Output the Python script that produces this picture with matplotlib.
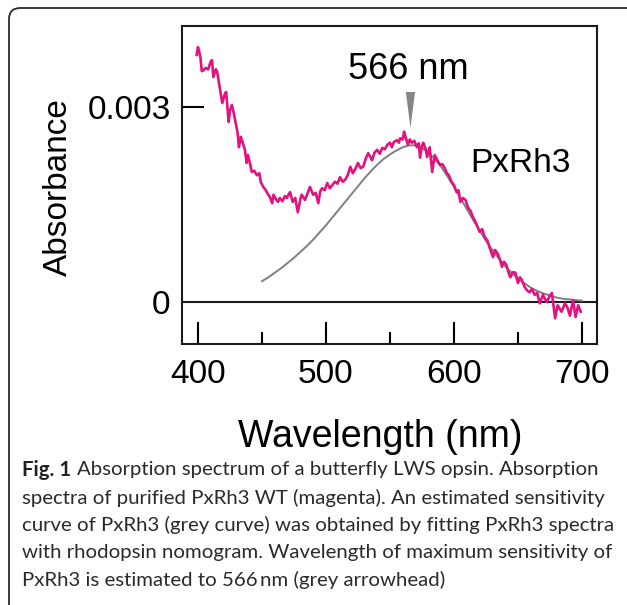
import numpy as np
import matplotlib.pyplot as plt
from matplotlib.patches import FancyBboxPatch, Polygon

plt.rcParams['font.family'] = ['Liberation Sans', 'DejaVu Sans']

wl_meas = [399, 400, 401, 402, 403, 404, 406, 408, 410, 411, 412, 414, 415, 417, 419,
           421, 422, 424, 425, 426.5, 428, 429, 431, 432, 433.5, 435, 436.7, 438, 439,
           441, 442, 444, 446, 448, 449, 451, 453, 454, 456, 458, 459, 461, 462.5, 464,
           466, 468, 469.5, 471, 472, 474, 476, 478, 480, 481, 483.6, 485, 487.5, 489,
           490, 492, 494, 495.5, 497, 499, 501, 503, 505, 507, 509, 511, 513, 515, 517,
           519, 521, 523, 525, 527, 529, 531, 533, 535, 536, 538, 540, 542, 544, 546,
           548, 550, 551.5, 553, 555.5, 557, 558, 560, 561, 562, 564, 565.5, 567, 569,
           571, 572.5, 573.5, 575, 576, 578, 579, 581, 583, 585, 587, 589, 591, 593,
           594.5, 596, 598, 600, 602, 603.5, 605, 607, 609, 611, 613, 614.5, 616, 618,
           620, 622, 624, 626, 628, 630.5, 632, 634, 636, 637.5, 639, 641, 642.5, 644,
           646, 648, 650, 651.5, 653, 655, 657, 659, 661, 663, 665, 667, 669.5, 671,
           672.5, 674.5, 676.5, 679, 681, 682.5, 684, 686.7, 688.5, 690.6, 693, 695,
           697, 699]
abs_meas = [3.80, 3.92, 3.85, 3.75, 3.55, 3.56, 3.60, 3.58, 3.70, 3.72, 3.46, 3.58, 3.54,
            3.30, 3.06, 3.20, 3.23, 2.77, 2.95, 3.03, 2.90, 2.80, 2.60, 2.38, 2.54, 2.45,
            2.34, 2.14, 2.26, 2.10, 2.00, 2.02, 1.95, 1.98, 1.85, 1.77, 1.72, 1.68, 1.62,
            1.52, 1.65, 1.58, 1.54, 1.60, 1.55, 1.63, 1.60, 1.66, 1.69, 1.54, 1.60, 1.38,
            1.58, 1.65, 1.57, 1.64, 1.77, 1.70, 1.65, 1.68, 1.52, 1.70, 1.75, 1.72, 1.83,
            1.75, 1.80, 1.85, 1.82, 1.92, 1.85, 1.88, 1.95, 2.08, 1.98, 2.05, 2.14, 2.06,
            2.08, 2.20, 2.29, 2.22, 2.18, 2.30, 2.34, 2.28, 2.37, 2.35, 2.42, 2.45, 2.38,
            2.46, 2.49, 2.45, 2.52, 2.50, 2.62, 2.55, 2.42, 2.50, 2.45, 2.48, 2.38, 2.44,
            2.22, 2.40, 2.45, 2.35, 2.23, 2.38, 2.00, 2.26, 2.18, 2.11, 2.12, 2.05, 1.98,
            1.95, 1.85, 1.80, 1.69, 1.72, 1.54, 1.60, 1.57, 1.45, 1.40, 1.32, 1.26, 1.18,
            1.08, 1.12, 1.00, 0.95, 0.83, 0.69, 0.80, 0.75, 0.65, 0.54, 0.62, 0.57, 0.46,
            0.38, 0.46, 0.45, 0.29, 0.38, 0.34, 0.24, 0.18, 0.15, 0.20, 0.11, 0.14, -0.02,
            0.11, 0.05, 0.00, 0.08, 0.14, -0.25, -0.05, -0.10, -0.15, -0.02, -0.08, -0.21,
            0.03, -0.23, -0.05, -0.15]

# nomogram fit (grey curve), absorbance x 1e-3
wl_fit = list(range(450, 701, 5))
abs_fit = [0.32, 0.38, 0.45, 0.52, 0.60, 0.68, 0.77, 0.86, 0.96, 1.07, 1.18, 1.30, 1.42,
           1.54, 1.66, 1.78, 1.90, 2.01, 2.11, 2.20, 2.27, 2.33, 2.38, 2.41, 2.41, 2.37,
           2.30, 2.20, 2.08, 1.93, 1.77, 1.60, 1.43, 1.26, 1.10, 0.94, 0.80, 0.67, 0.55,
           0.45, 0.36, 0.29, 0.22, 0.17, 0.13, 0.10, 0.07, 0.05, 0.04, 0.03, 0.02]

lambda_max = 566
xticks = [400, 500, 600, 700]
yticks = [0, 0.003]
ytick_labels = ['0', '0.003']

caption = [
    "Absorption spectrum of a butterfly LWS opsin. Absorption",
    "spectra of purified PxRh3 WT (magenta). An estimated sensitivity",
    "curve of PxRh3 (grey curve) was obtained by fitting PxRh3 spectra",
    "with rhodopsin nomogram. Wavelength of maximum sensitivity of",
    "PxRh3 is estimated to 566\u2009nm (grey arrowhead)",
]

W, H = 627, 605
fig = plt.figure(figsize=(W / 100, H / 100), dpi=100)

def fx(px):
    return px / W

def fy(py):
    return 1 - py / H

ax = fig.add_axes([fx(181.7), fy(344), fx(596.7) - fx(181.7), fy(25.7) - fy(344)])

magenta = '#e2127f'
grey = '#7f7f7f'

ax.plot(wl_fit, np.array(abs_fit) * 1e-3, color=grey, lw=1.4, zorder=2)
ax.plot(wl_meas, np.array(abs_meas) * 1e-3, color=magenta, lw=1.9, zorder=3)
ax.axhline(0, color='#1a1a1a', lw=1.5, zorder=1)

# arrowhead at lambda max
tri = Polygon([[lambda_max - 3.6, 3.23e-3], [lambda_max + 3.6, 3.23e-3], [lambda_max, 2.68e-3]],
              closed=True, color='#858585', lw=0)
ax.add_patch(tri)
ax.text(lambda_max - 2, 3.58e-3, '566 nm', fontsize=26, ha='center', va='center')
ax.text(652, 2.13e-3, 'PxRh3', fontsize=24, ha='center', va='center')

ax.set_xlim(387.3, 711.5)
ax.set_ylim(-0.646e-3, 4.25e-3)

ax.set_xticks(xticks)
ax.set_xticks([450, 550, 650], minor=True)
ax.set_yticks(yticks)
ax.set_yticklabels(ytick_labels)
ax.tick_params(axis='x', which='major', direction='in', length=16, width=1.5, labelsize=24, pad=11)
ax.tick_params(axis='x', which='minor', direction='in', length=8.5, width=1.5)
ax.tick_params(axis='y', direction='in', length=16, width=1.5, labelsize=24, pad=8)
ax.yaxis.get_major_ticks()[0].tick1line.set_visible(False)
for s in ax.spines.values():
    s.set_linewidth(1.5)
    s.set_color('#1a1a1a')

fig.text(fx(58), fy(187), 'Absorbance', rotation=90, fontsize=24, ha='center', va='center')
fig.text(fx(380), fy(437), 'Wavelength (nm)', fontsize=27, ha='center', va='center')

# outer rounded frame
frame = FancyBboxPatch((fx(9), fy(640)), fx(700), fy(8) - fy(640),
                       boxstyle='round,pad=0,rounding_size=0.018',
                       transform=fig.transFigure, fill=False, ec='#2b2b2b', lw=1.3,
                       clip_on=False)
fig.patches.append(frame)

# caption
cap_font = ['Lato', 'DejaVu Sans']
cap_size = 14.7
line_y = [470, 497.5, 525, 552.5, 580]
fig.canvas.draw()
r = fig.canvas.get_renderer()
t0 = fig.text(fx(22), fy(line_y[0]), 'Fig. 1', fontsize=cap_size, fontweight='bold',
              family=cap_font, color='#231f20', va='center')
bb = t0.get_window_extent(renderer=r)
fig.text(bb.x1 / W + fx(6), fy(line_y[0]), caption[0], fontsize=cap_size, family=cap_font,
         color='#2a2a2a', va='center')
for txt, y in zip(caption[1:], line_y[1:]):
    fig.text(fx(22), fy(y), txt, fontsize=cap_size, family=cap_font, color='#2a2a2a', va='center')

fig.savefig('out.png', dpi=100)
